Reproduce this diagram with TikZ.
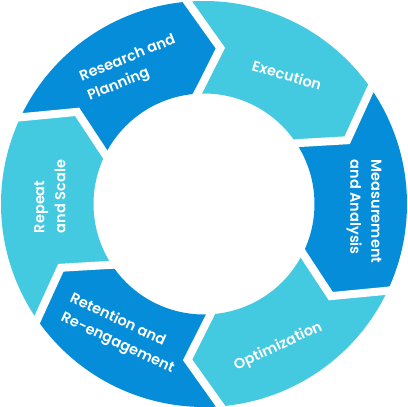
\documentclass[tikz,border=0pt]{standalone}
\usepackage{fontspec}
\setmainfont{Poppins}[UprightFont={* SemiBold}]
\definecolor{dk}{HTML}{058DD9}
\definecolor{lt}{HTML}{43C9E0}
\begin{document}
\begin{tikzpicture}[x=1pt,y=1pt,
  lbl/.style={text=white, font=\fontsize{14.5}{21}\selectfont, align=left, inner sep=0pt},
  gap/.style={white, line width=8, line join=miter}]
\useasboundingbox (-204,-203) rectangle (204,204);
\def\R{203}\def\r{110.5}\def\m{156.75}\def\d{12}
\foreach \a/\c in {156/dk,96/lt,36/dk,-24/lt,-84/dk,-144/lt}{
  \pgfmathsetmacro\b{\a-60}
  \pgfmathsetmacro\bt{\b-\d}
  \pgfmathsetmacro\at{\a-\d}
  \fill[\c] (\a:\R) arc[start angle=\a, end angle=\b, radius=\R] -- (\bt:\m) -- (\b:\r)
    arc[start angle=\b, end angle=\a, radius=\r] -- (\at:\m) -- cycle;
}
\foreach \a in {156,96,36,-24,-84,-144}{
  \pgfmathsetmacro\at{\a-\d}
  \draw[gap] (\a:{\R+8}) -- (\at:\m) -- (\a:{\r-8});
}
\node[lbl, rotate=22] (research) at (-72.2,135.3) {Research and\\Planning};
\node[lbl, rotate=-16.5] (execution) at (83,129) {Execution};
\node[lbl, rotate=-90] (measure) at (160,-7.5) {Measurement\\and Analysis};
\node[lbl, rotate=25] (optim) at (74.3,-142.7) {Optimization};
\node[lbl, rotate=-25] (retention) at (-82,-130) {Retention and\\Re-engagement};
\node[lbl, rotate=90] (repeat) at (-154,7.5) {Repeat\\and Scale};
\end{tikzpicture}
\end{document}
